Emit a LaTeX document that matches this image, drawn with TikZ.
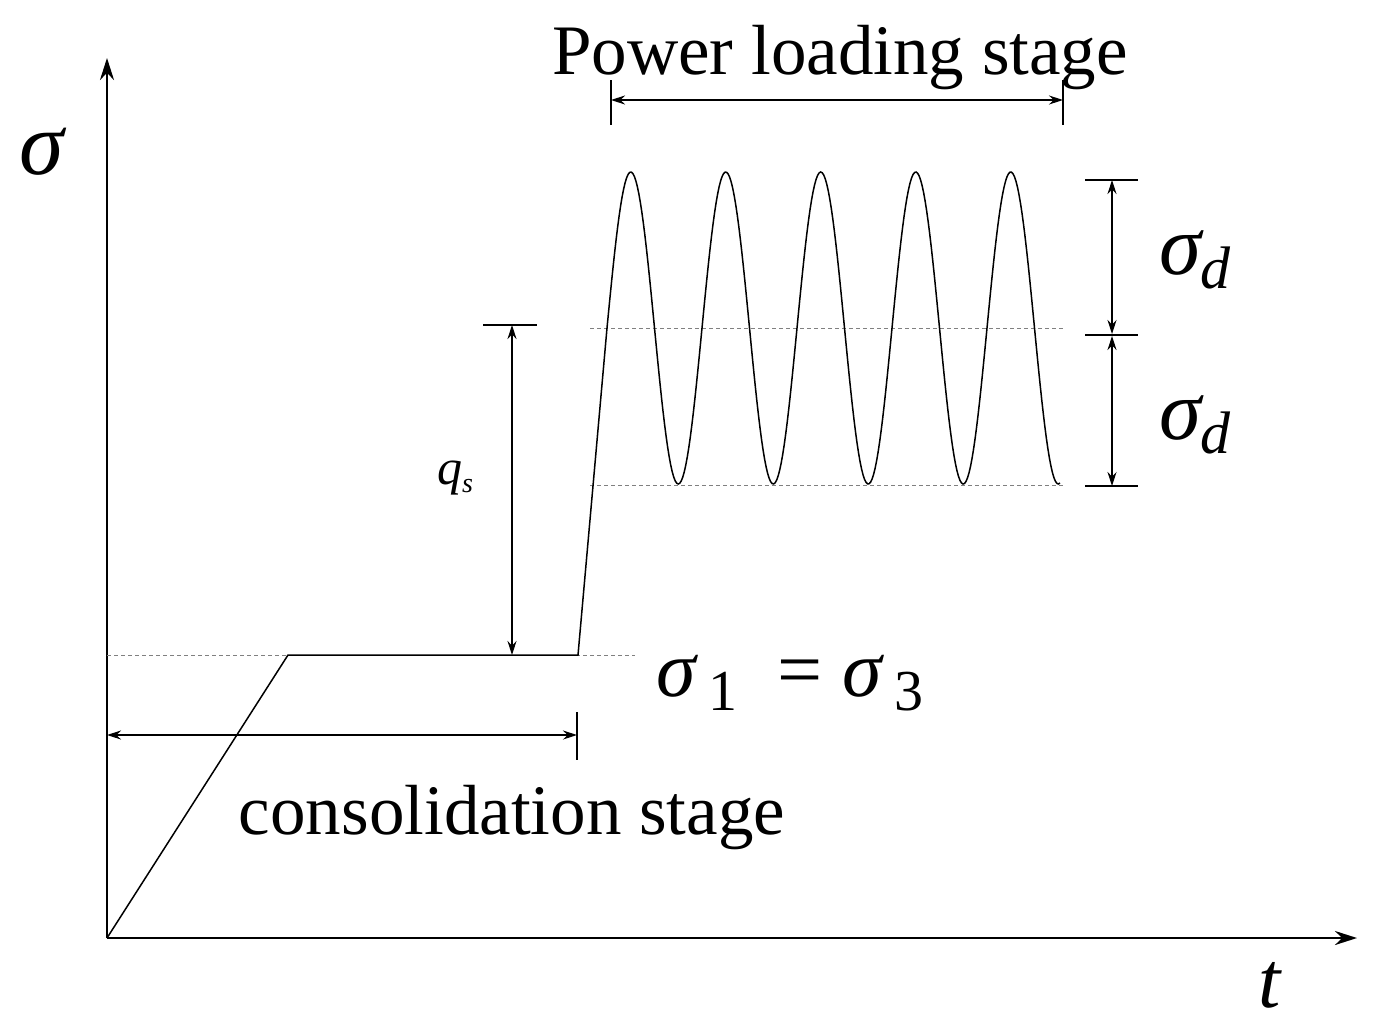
\documentclass[tikz,border=0pt]{standalone}
\usepackage{fontspec}
\setmainfont{Liberation Serif}
\usetikzlibrary{arrows.meta}
\newcommand{\fs}[1]{\fontsize{#1}{#1}\selectfont}
\begin{document}
\begin{tikzpicture}[x=1pt,y=-1pt,
  ln/.style={line width=1.5pt},
  dsh/.style={gray,line width=0.8pt,dash pattern=on 4pt off 3pt},
  dim/.style={line width=1.2pt,{Stealth[length=14pt,width=9pt]}-{Stealth[length=14pt,width=9pt]}},
  big/.style={font=\fs{71},inner sep=0pt}]
\useasboundingbox (0,0) rectangle (1380,1031);
\coordinate (O) at (107,938);
\coordinate (Y) at (107,58);
\coordinate (X) at (1357,938);
\draw[line width=2.5pt,-{Stealth[length=22pt,width=14pt]}] (O) -- (Y);
\draw[line width=2.5pt,-{Stealth[length=22pt,width=14pt]}] (O) -- (X);
\node[inner sep=0pt,font=\fs{90}\itshape] (sig) at (42,152) {σ};
\node[inner sep=0pt,font=\fs{80}\itshape] (t) at (1270,985) {t};
% dashed
\coordinate (c1) at (107,655); \coordinate (c2) at (635,655);
\draw[dsh] (c1) -- (c2);
\coordinate (m1) at (590,328); \coordinate (m2) at (1065,328);
\draw[dsh] (m1) -- (m2);
\coordinate (b1) at (590,485); \coordinate (b2) at (1065,485);
\draw[dsh] (b1) -- (b2);
% curve
\coordinate (k) at (288,655); \coordinate (e) at (578,655); \coordinate (s) at (607,328);
\draw[ln] (O) -- (k) -- (e) -- (s);
\draw[ln] plot[domain=0:453,samples=300] ({607+\x},{328-156*sin(3.78947*\x)});
% q_s
\coordinate (q1) at (483,325); \coordinate (q2) at (537,325);
\draw[ln] (q1) -- (q2);
\coordinate (qa) at (512,325); \coordinate (qb) at (512,655);
\draw[dim] (qa) -- (qb);
\node[inner sep=0pt,font=\fs{50}\itshape] (qs) at (455,478) {q\raisebox{-8pt}{\fs{28}s}};
% sigma d
\coordinate (r1) at (1085,180); \coordinate (r2) at (1138,180);
\coordinate (r3) at (1085,335); \coordinate (r4) at (1138,335);
\coordinate (r5) at (1085,486); \coordinate (r6) at (1138,486);
\draw[ln] (r1)--(r2) (r3)--(r4) (r5)--(r6);
\coordinate (d1) at (1112,180); \coordinate (d2) at (1112,334); \coordinate (d3) at (1112,336); \coordinate (d4) at (1112,486);
\draw[dim] (d1) -- (d2);
\draw[dim] (d3) -- (d4);
\node[inner sep=0pt,font=\fs{85}\itshape] (sd1) at (1195,260) {σ\raisebox{-14pt}{\fs{60}d}};
\node[inner sep=0pt,font=\fs{85}\itshape] (sd2) at (1195,425) {σ\raisebox{-14pt}{\fs{60}d}};
% power loading
\coordinate (p1) at (611,80); \coordinate (p2) at (611,125);
\coordinate (p3) at (1063,80); \coordinate (p4) at (1063,125);
\draw[ln] (p1)--(p2) (p3)--(p4);
\coordinate (pa) at (611,100); \coordinate (pb) at (1063,100);
\draw[dim] (pa) -- (pb);
\node[big] (pl) at (840,58) {Power loading stage};
% consolidation
\coordinate (u1) at (577,712); \coordinate (u2) at (577,760);
\draw[ln] (u1)--(u2);
\coordinate (ca) at (107,735); \coordinate (cb) at (577,735);
\draw[dim] (ca) -- (cb);
\node[big] (cs) at (512,818) {consolidation stage};
\node[inner sep=0pt,font=\fs{80}] (eq) at (790,683) {\textit{σ}\raisebox{-14pt}{\fs{58}\,1}\ \ =\ \textit{σ}\raisebox{-14pt}{\fs{58}\,3}};
\end{tikzpicture}
\end{document}
